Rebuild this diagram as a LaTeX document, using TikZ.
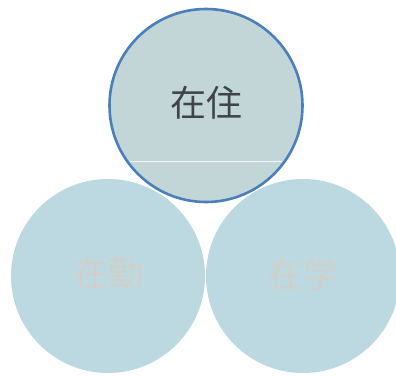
\documentclass[tikz,border=0pt]{standalone}
\usepackage{fontspec}
\newfontfamily\cjk{Noto Sans CJK JP}
\definecolor{topfill}{HTML}{C2D6D8}
\definecolor{lowfill}{HTML}{BCD9E2}
\definecolor{ringblue}{HTML}{4A7FBB}
\definecolor{fadetext}{HTML}{CFD0CA}
\definecolor{darktext}{HTML}{3F4446}
\tikzset{
  disc/.style={circle,inner sep=0pt,minimum size=#1},
  lowdisc/.style={disc=194pt,fill=lowfill},
  topdisc/.style={disc=193pt,fill=topfill,draw=ringblue,line width=2.6pt},
  lowlabel/.style={font=\cjk\fontsize{35}{35}\selectfont,text=fadetext},
  toplabel/.style={font=\cjk\fontsize{36}{36}\selectfont,text=darktext},
  foldline/.style={draw=white!75!topfill,line width=0.9pt}
}
\begin{document}
\begin{tikzpicture}[x=1pt,y=-1pt]
\useasboundingbox (0,0) rectangle (396,377);
\fill[white] (0,0) rectangle (396,377);
\node[lowdisc] (left) at (108,276) {};
\node[lowdisc] (right) at (303,276) {};
\node[topdisc] (top) at (206,105.5) {};
\coordinate (foldA) at (130,161.5);
\coordinate (foldB) at (282,161.5);
\draw[foldline] (foldA) -- (foldB);
\node[toplabel] (ttop) at (206,103) {在住};
\node[lowlabel] (tleft) at (108,273) {在勤};
\node[lowlabel] (tright) at (303,274) {在学};
\end{tikzpicture}
\end{document}
